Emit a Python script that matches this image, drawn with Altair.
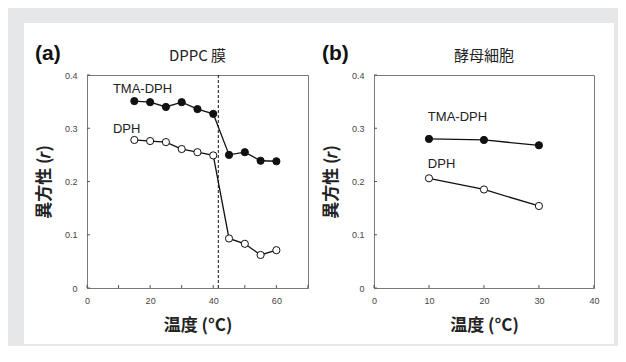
import altair as alt
import pandas as pd

# ---------------- data ----------------
series_names = ["TMA-DPH", "DPH"]

# panel (a) DPPC membrane
a_temp = [15, 20, 25, 30, 35, 40, 45, 50, 55, 60]
a_tma = [0.351, 0.349, 0.340, 0.349, 0.336, 0.327, 0.250, 0.255, 0.239, 0.238]
a_dph = [0.278, 0.276, 0.274, 0.261, 0.255, 0.249, 0.093, 0.083, 0.062, 0.071]
a_transition = [41.6]

# panel (b) yeast cells
b_temp = [10, 20, 30]
b_tma = [0.280, 0.278, 0.268]
b_dph = [0.206, 0.185, 0.154]

# in-plot series labels
a_label_x = [8.2, 8.2]
a_label_y = [0.374, 0.299]
b_label_x = [9.8, 9.8]
b_label_y = [0.321, 0.233]

panel_tags = ["(a)", "(b)"]
panel_titles = ["DPPC 膜", "酵母細胞"]
x_title = "温度 (°C)"
y_title = "異方性 (𝑟)"

a_xticks = [0, 10, 20, 30, 40, 50, 60, 70]
b_xticks = [0, 10, 20, 30, 40]
yticks = [0, 0.1, 0.2, 0.3, 0.4]

# ---------------- style ----------------
CJK = "Noto Sans CJK JP"
LAT = "Liberation Sans"
BG = "#e6e7e8"
FRAME = "#7a7a7a"
H = 213
WA, WB, GAP = 221, 220, 66
EPS = 0.02  # keeps the last tick safely inside the scale range


def panel(temps, tma, dph, lab_x, lab_y, xmax, xticks, tag, title, W,
          transition=None):
    df = pd.DataFrame({
        "temp": temps * 2,
        "r": tma + dph,
        "series": [series_names[0]] * len(temps) + [series_names[1]] * len(temps),
    })
    labels = pd.DataFrame({"series": series_names, "x": lab_x, "y": lab_y})
    xs = alt.Scale(domain=[0, xmax + EPS], nice=False, zero=False)
    ys = alt.Scale(domain=[0, 0.4], nice=False, zero=False)

    x_axis = alt.Axis(values=xticks, title=x_title, ticks=False,
                      labelPadding=8, labelFontSize=9, labelFont=LAT,
                      labelColor="#444", labelFlush=False, labelOverlap=False,
                      domain=True, domainColor=FRAME,
                      grid=False, titleFont=CJK, titleFontSize=17,
                      titleFontWeight="bold", titleColor="#222",
                      titleX=W / 2, titleY=37, titleAlign="center",
                      titleBaseline="middle")
    y_axis = alt.Axis(values=yticks, title=y_title, ticks=False,
                      labelPadding=10, labelFontSize=9, labelFont=LAT,
                      labelColor="#444", labelFlush=False, labelOverlap=False,
                      format=".1~f", domain=True,
                      domainColor=FRAME, grid=False, titleFont=CJK,
                      titleFontSize=17, titleFontWeight="bold",
                      titleColor="#222", titleAngle=270, titleX=-43,
                      titleY=H / 2, titleAlign="center",
                      titleBaseline="middle")

    lines = alt.Chart(df).mark_line(color="#111", strokeWidth=1.3).encode(
        x=alt.X("temp:Q", scale=xs, axis=x_axis),
        y=alt.Y("r:Q", scale=ys, axis=y_axis),
        detail="series:N",
    )
    pts = alt.Chart(df).mark_point(shape="circle", filled=True, size=52,
                                   stroke="#111", strokeWidth=1,
                                   opacity=1).encode(
        x=alt.X("temp:Q", scale=xs),
        y=alt.Y("r:Q", scale=ys),
        fill=alt.Fill("series:N", scale=alt.Scale(domain=series_names,
                                                  range=["#111", "white"]),
                      legend=None),
    )
    txt = alt.Chart(labels).mark_text(align="left", baseline="middle",
                                      font=LAT, fontSize=13,
                                      color="#222").encode(
        x=alt.X("x:Q", scale=xs),
        y=alt.Y("y:Q", scale=ys),
        text="series:N",
    )
    # inward tick marks
    xt = alt.Chart(pd.DataFrame({"tx": xticks})).mark_rule(
        color="#555", strokeWidth=1).encode(
        x=alt.X("tx:Q", scale=xs), y=alt.value(H), y2=alt.value(H - 3))
    yt = alt.Chart(pd.DataFrame({"ty": yticks})).mark_rule(
        color="#555", strokeWidth=1).encode(
        y=alt.Y("ty:Q", scale=ys), x=alt.value(0), x2=alt.value(3))

    tagm = alt.Chart(alt.Data(values=[{"t": tag}])).mark_text(
        align="left", baseline="alphabetic", font=LAT, fontSize=21,
        fontWeight="bold", color="#111").encode(
        x=alt.value(-52), y=alt.value(-15), text="t:N")
    titm = alt.Chart(alt.Data(values=[{"t": title}])).mark_text(
        align="center", baseline="alphabetic", font=CJK, fontSize=15,
        color="#222").encode(
        x=alt.value(W / 2), y=alt.value(-14), text="t:N")

    layers = [lines]
    if transition is not None:
        rule = alt.Chart(pd.DataFrame({"x": transition})).mark_rule(
            color="#111", strokeWidth=1, strokeDash=[3, 2]).encode(
            x=alt.X("x:Q", scale=xs))
        layers.append(rule)
    layers += [xt, yt, pts, txt, tagm, titm]
    return alt.layer(*layers).properties(
        width=W, height=H, view=alt.ViewBackground(stroke=FRAME, strokeWidth=1))


pa = panel(a_temp, a_tma, a_dph, a_label_x, a_label_y, 70, a_xticks,
           panel_tags[0], panel_titles[0], WA, a_transition)
pb = panel(b_temp, b_tma, b_dph, b_label_x, b_label_y, 40, b_xticks,
           panel_tags[1], panel_titles[1], WB)

# white card behind both panels, drawn first by a 1px-wide leading panel
DUMMY_W = 1
lead = GAP + DUMMY_W  # distance from this panel's origin to panel (a)'s origin
card = alt.Chart(alt.Data(values=[{"a": 1}])).mark_rect(fill="white").encode(
    x=alt.value(lead - 63), x2=alt.value(lead + WA + GAP + WB + 20),
    y=alt.value(-52), y2=alt.value(H + 56),
).properties(width=DUMMY_W, height=H,
             view=alt.ViewBackground(stroke=None, fill=None))

chart = alt.hconcat(card, pa, pb, spacing=GAP, bounds="flush").properties(
    background=BG,
    padding={"left": 12, "top": 15, "right": 4, "bottom": 2},
).configure_view(stroke=None)

chart.save("out.html", embed_options={"renderer": "svg", "actions": False})
